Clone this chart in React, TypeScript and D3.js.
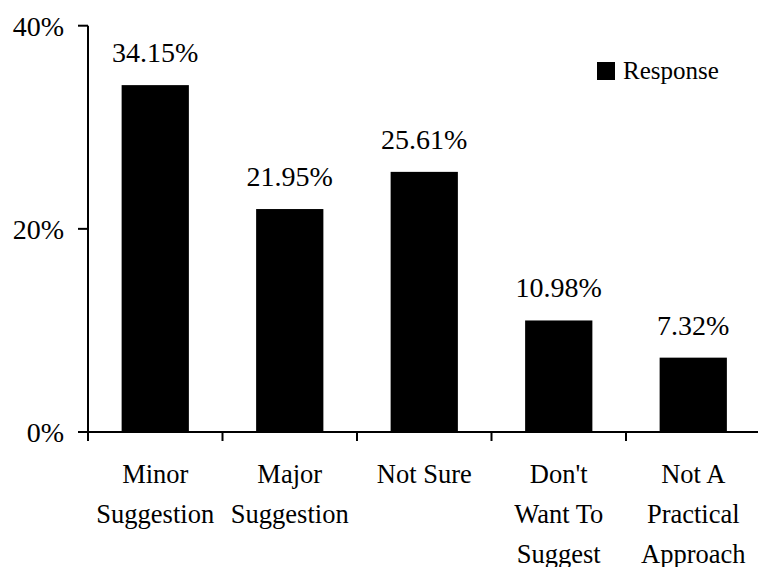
import React, { useEffect } from "react";
import * as d3 from "d3";

const categories: string[][] = [
  ["Minor", "Suggestion"],
  ["Major", "Suggestion"],
  ["Not Sure"],
  ["Don't", "Want To", "Suggest"],
  ["Not A", "Practical", "Approach"],
];
const values: number[] = [34.15, 21.95, 25.61, 10.98, 7.32];
const yTicks: number[] = [0, 20, 40];
const seriesName = "Response";

export default function App() {
  const W = 758;
  const H = 567;
  const left = 88;
  const top = 25.7;
  const bottom = 432;
  const step = 134.5;
  const right = left + step * categories.length;

  useEffect(() => {
    document.body.style.margin = "0";
    document.body.style.fontFamily = "'Times New Roman'";
  }, []);

  const x = d3
    .scaleBand<number>()
    .domain(d3.range(categories.length))
    .range([left, right])
    .paddingInner(0.5)
    .paddingOuter(0.25);
  const y = d3.scaleLinear().domain([0, 40]).range([bottom, top]);
  const boundaries = d3.range(categories.length + 1).map((i) => left + i * step);

  const tf = { fontFamily: "'Times New Roman'" };

  return (
    <div style={{ fontFamily: "'Times New Roman'" }}>
      <svg width={W} height={H} style={{ display: "block", fontFamily: "'Times New Roman'" }}>
        <rect x={0} y={0} width={W} height={H} fill="#fff" />
        {values.map((v, i) => (
          <g key={i}>
            <rect
              x={x(i)!}
              y={y(v)}
              width={x.bandwidth()}
              height={bottom - y(v)}
              fill="#000"
            />
            <text
              x={x(i)! + x.bandwidth() / 2}
              y={y(v) - 23}
              textAnchor="middle"
              fontSize={28}
              style={tf}
            >
              {v.toFixed(2)}%
            </text>
            {categories[i].map((line, j) => (
              <text
                key={j}
                x={x(i)! + x.bandwidth() / 2}
                y={483 + j * 40}
                textAnchor="middle"
                fontSize={26.5}
                style={tf}
              >
                {line}
              </text>
            ))}
          </g>
        ))}
        <line x1={left} x2={left} y1={top} y2={bottom} stroke="#000" strokeWidth={2} />
        {yTicks.map((t) => (
          <g key={t}>
            <line x1={left - 10} x2={left} y1={y(t)} y2={y(t)} stroke="#000" strokeWidth={2} />
            <text x={64} y={y(t) + 10} textAnchor="end" fontSize={28} style={tf}>
              {t}%
            </text>
          </g>
        ))}
        <line x1={left} x2={right} y1={bottom} y2={bottom} stroke="#000" strokeWidth={2} />
        {boundaries.map((b, i) => (
          <line key={i} x1={b} x2={b} y1={bottom} y2={bottom + 9} stroke="#000" strokeWidth={2} />
        ))}
        <rect x={597} y={62} width={18} height={18} fill="#000" />
        <text x={623} y={79} fontSize={25} style={tf}>
          {seriesName}
        </text>
      </svg>
    </div>
  );
}
